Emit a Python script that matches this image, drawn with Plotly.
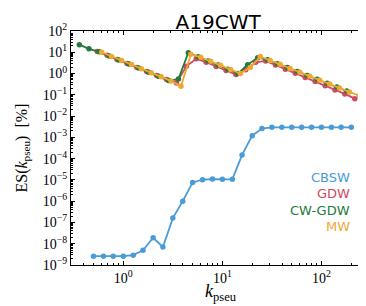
import plotly.graph_objects as go

# ---- data ----
cbsw_k = [0.50, 0.63, 0.79, 1.00, 1.26, 1.58, 2.00, 2.51, 3.16, 3.98, 5.01, 6.31, 7.94,
          10.0, 12.6, 15.8, 20.0, 25.1, 31.6, 39.8, 50.1, 63.1, 79.4, 100, 126, 158, 200]
cbsw_es = [2.6e-9, 2.6e-9, 2.6e-9, 2.6e-9, 2.9e-9, 4.9e-9, 1.9e-8, 7.0e-9, 1.6e-7, 1.0e-6,
           7.6e-6, 1.02e-5, 1.1e-5, 1.07e-5, 1.07e-5, 1.5e-4, 1.2e-3, 2.6e-3, 2.95e-3, 2.95e-3,
           2.95e-3, 2.95e-3, 2.95e-3, 2.95e-3, 2.95e-3, 2.95e-3, 2.95e-3]

gdw_k = [0.545, 0.686, 0.864, 1.09, 1.37, 1.72, 2.17, 2.73, 3.44, 4.33, 5.45, 6.86, 8.64,
         10.9, 13.7, 17.2, 21.7, 27.3, 34.4, 43.3, 54.5, 68.6, 86.4, 109, 137, 172, 217]
gdw_es = [11.0, 7.2, 4.6, 3.0, 1.9, 1.25, 0.80, 0.52, 0.36, 2.2, 4.9, 3.4, 2.15,
          1.4, 0.9, 1.5, 3.4, 3.9, 2.5, 1.6, 1.02, 0.65, 0.42, 0.27, 0.17, 0.11, 0.066]

cwgdw_k = [0.36, 0.45, 0.57, 0.72, 0.90, 1.14, 1.43, 1.80, 2.27, 2.86, 3.60, 4.53, 5.70,
           7.18, 9.04, 11.4, 14.3, 18.0, 22.7, 28.6, 36.0, 45.3, 57.0, 71.8, 90.4, 114, 143, 180]
cwgdw_es = [22.8, 14.5, 10.5, 6.7, 4.3, 2.8, 1.8, 1.15, 0.74, 0.47, 0.55, 9.5, 6.1,
            3.9, 2.5, 1.6, 1.0, 2.6, 5.6, 4.5, 2.9, 1.9, 1.25, 0.82, 0.54, 0.35, 0.23, 0.15]

mw_k = [0.605, 0.76, 0.96, 1.21, 1.52, 1.91, 2.41, 3.03, 3.82, 4.81, 6.05, 7.62, 9.59,
        12.1, 15.2, 19.1, 24.1, 30.3, 38.2, 48.1, 60.5, 76.2, 95.9, 121, 152, 191, 241]
mw_es = [10.0, 6.4, 4.1, 2.65, 1.7, 1.1, 0.70, 0.45, 0.25, 8.0, 5.8, 3.8, 2.45,
         1.55, 1.0, 1.9, 6.3, 4.1, 2.7, 1.75, 1.15, 0.75, 0.49, 0.32, 0.21, 0.137, 0.09]

series = [
    ("CBSW", cbsw_k, cbsw_es, "#4a9bd6"),
    ("GDW", gdw_k, gdw_es, "#cc4b62"),
    ("CW-GDW", cwgdw_k, cwgdw_es, "#237a3c"),
    ("MW", mw_k, mw_es, "#f0a832"),
]

y_exps = list(range(-9, 3))
x_exps = [0, 1, 2]

def sup(e):
    s = str(e).replace("-", "\u2212")
    return "10<sup>" + s + "</sup>"

fig = go.Figure()
for name, k, es, col in series:
    fig.add_trace(go.Scatter(
        x=k, y=es, mode="lines+markers", name=name,
        line=dict(color=col, width=1.8),
        marker=dict(color=col, size=5.5),
        showlegend=False,
    ))

# text legend
for i, (name, k, es, col) in enumerate(series):
    fig.add_annotation(
        xref="paper", yref="paper", x=0.935, y=0.376 - i * 0.071,
        text=name, showarrow=False, xanchor="right", yanchor="middle",
        font=dict(family="DejaVu Sans", size=13, color=col),
    )

serif = "Liberation Serif"

# axis titles as annotations for exact placement
fig.add_annotation(
    xref="paper", yref="paper", x=0.5, y=0, yanchor="middle", xanchor="center", yshift=-27,
    text="<i>k</i><sub>pseu</sub>", showarrow=False,
    font=dict(family=serif, size=18, color="black"),
)
fig.add_annotation(
    xref="paper", yref="paper", x=0, y=0.5, xanchor="right", yanchor="middle", xshift=-38,
    text="ES(<i>k</i><sub>pseu</sub>)  [%]", showarrow=False, textangle=-90,
    font=dict(family=serif, size=16, color="black"),
)

minor_x = [m * 10 ** e for e in range(-1, 3) for m in range(2, 10)]
minor_y = [m * 10 ** e for e in range(-10, 2) for m in range(2, 10)]

fig.update_xaxes(
    type="log", range=[-0.528, 2.50],
    tickvals=[10 ** e for e in x_exps], ticktext=[sup(e) for e in x_exps],
    ticks="inside", ticklen=4, tickwidth=1, tickcolor="black",
    minor=dict(ticks="inside", ticklen=2, tickvals=minor_x, tickcolor="black"),
    showline=True, linecolor="black", linewidth=1, mirror="allticks",
    showgrid=False, zeroline=False,
    tickfont=dict(family=serif, size=14, color="black"),
)
fig.update_yaxes(
    type="log", range=[-9, 2],
    tickvals=[10 ** e for e in y_exps], ticktext=[sup(e) for e in y_exps],
    ticks="inside", ticklen=4, tickwidth=1, tickcolor="black",
    minor=dict(ticks="inside", ticklen=2, tickvals=minor_y, tickcolor="black"),
    showline=True, linecolor="black", linewidth=1, mirror="allticks",
    showgrid=False, zeroline=False,
    tickfont=dict(family=serif, size=14, color="black"),
)

fig.update_layout(
    width=366, height=306,
    margin=dict(l=63, r=3, t=23, b=49),
    plot_bgcolor="white", paper_bgcolor="white",
    title=dict(text="A19CWT", x=0.574, xanchor="center", y=0.955, yanchor="middle",
               font=dict(family="DejaVu Sans", size=20, color="black")),
)

fig.write_html("out.html")
